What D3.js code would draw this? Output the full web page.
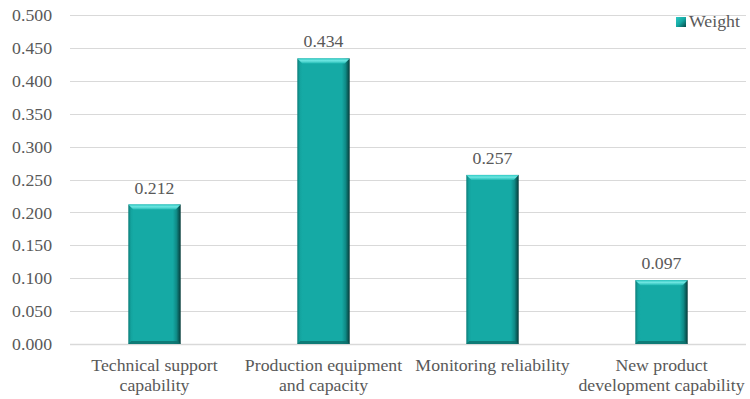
<!DOCTYPE html>
<html>
<head>
<meta charset="utf-8">
<script src="https://cdn.jsdelivr.net/npm/d3@7"></script>
<style>
  html, body { margin: 0; padding: 0; background: #fff; }
  svg { display: block; }
</style>
</head>
<body>
<svg id="chart" width="750" height="399"></svg>
<script>
// Weights of the supplier evaluation criteria
const categories = [
  ["Technical support", "capability"],
  ["Production equipment", "and capacity"],
  ["Monitoring reliability"],
  ["New product", "development capability"]
];
const weights = [0.212, 0.434, 0.257, 0.097];
const yTicks = [0, 0.05, 0.1, 0.15, 0.2, 0.25, 0.3, 0.35, 0.4, 0.45, 0.5];
const seriesName = "Weight";

const svg = d3.select("#chart");
const margin = { left: 70, right: 4, top: 15, bottom: 55 };
const W = 750, H = 399;
const FONT = '"Liberation Serif"';
const fontSize = "17.75px";
const textColor = "#595959";

// shared text styling
function styleText(sel) {
  sel.style("font-family", FONT).style("font-size", fontSize).style("fill", textColor);
}

const x = d3.scaleBand()
  .domain(d3.range(categories.length))
  .range([margin.left, W - margin.right])
  .paddingInner(0.69)
  .paddingOuter(0.345);

const y = d3.scaleLinear().domain([0, 0.5]).range([H - margin.bottom, margin.top]);

// gradients for the bevelled bars
const defs = svg.append("defs");
const sideGrad = defs.append("linearGradient").attr("id", "barSide").attr("x1", 0).attr("x2", 1).attr("y1", 0).attr("y2", 0);
[[0, "#0b7c78"], [0.05, "#13a39e"], [0.1, "#15aaa5"], [0.85, "#15aaa5"], [0.92, "#0f8a86"], [1, "#063a38"]]
  .forEach(([o, c]) => sideGrad.append("stop").attr("offset", o).attr("stop-color", c));
const topGrad = defs.append("linearGradient").attr("id", "barTop").attr("x1", 0).attr("x2", 0).attr("y1", 0).attr("y2", 1);
[[0, "#2ec9c3"], [0.45, "#6ee6e1"], [1, "#22bbb5"]]
  .forEach(([o, c]) => topGrad.append("stop").attr("offset", o).attr("stop-color", c));
const legendGrad = defs.append("linearGradient").attr("id", "legendGrad").attr("x1", 0).attr("x2", 1).attr("y1", 0).attr("y2", 1);
[[0, "#2ec9c3"], [0.5, "#14a8a3"], [1, "#074a48"]]
  .forEach(([o, c]) => legendGrad.append("stop").attr("offset", o).attr("stop-color", c));

// gridlines
svg.append("g").selectAll("line").data(yTicks).join("line")
  .attr("x1", margin.left).attr("x2", W - margin.right)
  .attr("y1", d => Math.round(y(d)) + 0.5).attr("y2", d => Math.round(y(d)) + 0.5)
  .attr("stroke", "#d9d9d9").attr("stroke-width", d => d === 0 ? 1.5 : 1);

// y axis labels
const yAxis = d3.axisLeft(y).tickValues(yTicks).tickFormat(d3.format(".3f")).tickSize(0).tickPadding(0);
const gy = svg.append("g").attr("transform", `translate(${margin.left - 18},0)`).call(yAxis);
gy.select(".domain").remove();
gy.selectAll("text").call(styleText);

// bars
const bevel = 5;
const bars = svg.append("g").selectAll("g").data(weights).join("g");
bars.append("rect")
  .attr("x", (d, i) => x(i)).attr("width", x.bandwidth())
  .attr("y", d => y(d)).attr("height", d => y(0) - y(d))
  .attr("fill", "url(#barSide)");
bars.append("polygon")
  .attr("points", (d, i) => {
    const x0 = x(i), x1 = x(i) + x.bandwidth(), t = y(d);
    return [[x0, t], [x1, t], [x1 - bevel, t + bevel], [x0 + bevel, t + bevel]].join(" ");
  })
  .attr("fill", "url(#barTop)");
bars.append("polygon")
  .attr("points", (d, i) => {
    const x0 = x(i), x1 = x(i) + x.bandwidth(), b = y(0);
    return [[x0 + 3, b - 3], [x1 - 3, b - 3], [x1, b], [x0, b]].join(" ");
  })
  .attr("fill", "#0c6f6b").attr("opacity", 0.8);

// value labels
svg.append("g").selectAll("text").data(weights).join("text")
  .attr("x", (d, i) => x(i) + x.bandwidth() / 2)
  .attr("y", d => y(d) - 11)
  .attr("text-anchor", "middle")
  .call(styleText)
  .text(d => d3.format(".3f")(d));

// category labels
const cat = svg.append("g").selectAll("text").data(categories).join("text")
  .attr("x", (d, i) => x(i) + x.bandwidth() / 2)
  .attr("y", H - margin.bottom + 27)
  .attr("text-anchor", "middle")
  .call(styleText);
cat.selectAll("tspan").data(d => d).join("tspan")
  .attr("x", function () { return this.parentNode.getAttribute("x"); })
  .attr("dy", (d, i) => i === 0 ? 0 : 20)
  .text(d => d);

// legend
const lg = svg.append("g").attr("transform", "translate(676,17)");
lg.append("rect").attr("width", 10).attr("height", 10).attr("fill", "url(#legendGrad)");
lg.append("text").attr("x", 13).attr("y", 10).call(styleText).text(seriesName);
</script>
</body>
</html>
